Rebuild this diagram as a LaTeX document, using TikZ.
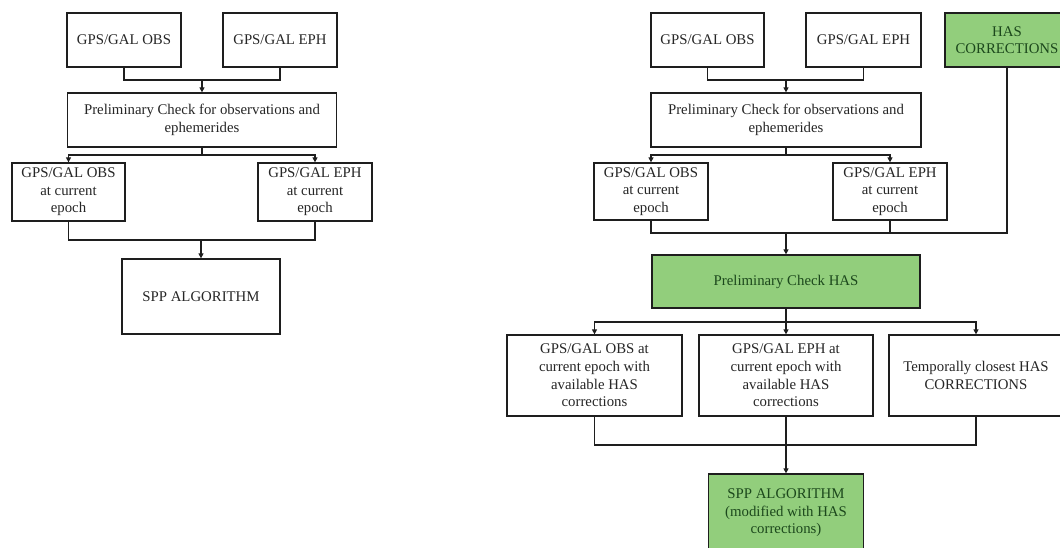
\documentclass[tikz,border=0pt]{standalone}
\usepackage{fontspec}
\setmainfont{Liberation Serif}
\usetikzlibrary{arrows.meta}
\definecolor{hasgreen}{RGB}{146,206,124}
\definecolor{hastext}{RGB}{28,72,28}
\definecolor{linec}{RGB}{30,30,30}
\begin{document}
\begin{tikzpicture}[x=1pt,y=-1pt,
  box/.style={draw=linec, line width=1.3pt, fill=white, align=center, inner sep=2pt,
    font=\fontsize{14.8}{17.6}\selectfont, text=black!85},
  gbox/.style={box, fill=hasgreen, text=hastext},
  conn/.style={draw=linec, line width=1.3pt},
  arr/.style={conn, -{Triangle[length=5pt,width=5pt]}}]
\clip (0,0) rectangle (1060,547);
\fill[white] (0,0) rectangle (1060,547);
% ---------------- left diagram ----------------
\node[box, minimum width=114, minimum height=54] (lobs) at (124,40) {GPS/GAL OBS};
\node[box, minimum width=114, minimum height=54] (leph) at (280,40) {GPS/GAL EPH};
\node[box, minimum width=269, minimum height=54] (lpre) at (202,120) {Preliminary Check for observations and\\ephemerides};
\node[box, minimum width=113, minimum height=58] (lobsc) at (68.5,192) {GPS/GAL OBS\\at current\\epoch};
\node[box, minimum width=114, minimum height=58] (lephc) at (315,192) {GPS/GAL EPH\\at current\\epoch};
\node[box, minimum width=158, minimum height=75] (lspp) at (201,296.5) {SPP ALGORITHM};
\coordinate (lj1) at (202,80);
\coordinate (lj2) at (202,155);
\coordinate (lj3) at (201,240);
\draw[conn] (lobs.south) |- (lj1) -| (leph.south);
\draw[arr] (lj1) -- (lpre.north);
\draw[conn] (lpre.south) -- (lj2);
\draw[arr] (lj2) -| (lobsc.north);
\draw[arr] (lj2) -| (lephc.north);
\draw[conn] (lobsc.south) |- (lj3) -| (lephc.south);
\draw[arr] (lj3) -- (lspp.north);
% ---------------- right diagram ----------------
\node[box, minimum width=113, minimum height=54] (robs) at (707.5,40) {GPS/GAL OBS};
\node[box, minimum width=115, minimum height=54] (reph) at (863.5,40) {GPS/GAL EPH};
\node[gbox, minimum width=124, minimum height=54] (rhas) at (1007,40) {HAS\\CORRECTIONS};
\node[box, minimum width=270, minimum height=54] (rpre) at (786,120) {Preliminary Check for observations and\\ephemerides};
\node[box, minimum width=114, minimum height=57] (robsc) at (651,191.5) {GPS/GAL OBS\\at current\\epoch};
\node[box, minimum width=114, minimum height=57] (rephc) at (890,191.5) {GPS/GAL EPH\\at current\\epoch};
\node[gbox, minimum width=268, minimum height=53] (rhpre) at (786,281.5) {Preliminary Check HAS};
\node[box, minimum width=175, minimum height=81] (rb1) at (594.5,375.5) {GPS/GAL OBS at\\current epoch with\\available HAS\\corrections};
\node[box, minimum width=174, minimum height=81] (rb2) at (786,375.5) {GPS/GAL EPH at\\current epoch with\\available HAS\\corrections};
\node[box, minimum width=174, minimum height=81] (rb3) at (976,375.5) {Temporally closest HAS\\CORRECTIONS};
\node[gbox, minimum width=155, minimum height=78] (rspp) at (786,513) {SPP ALGORITHM\\(modified with HAS\\corrections)};
\coordinate (rj1) at (786,80);
\coordinate (rj2) at (786,155);
\coordinate (rj3) at (786,233);
\coordinate (rj4) at (786,322);
\coordinate (rj5) at (786,445);
\draw[conn] (robs.south) |- (rj1) -| (reph.south);
\draw[arr] (rj1) -- (rpre.north);
\draw[conn] (rpre.south) -- (rj2);
\draw[arr] (rj2) -| (robsc.north);
\draw[arr] (rj2) -| (rephc.north);
\draw[conn] (robsc.south) |- (rj3) -| (rhas.south);
\draw[conn] (rephc.south) -- (rephc.south |- rj3);
\draw[arr] (rj3) -- (rhpre.north);
\draw[conn] (rhpre.south) -- (rj4);
\draw[arr] (rj4) -| (rb1.north);
\draw[arr] (rj4) -- (rb2.north);
\draw[arr] (rj4) -| (rb3.north);
\draw[conn] (rb1.south) |- (rj5) -| (rb3.south);
\draw[conn] (rb2.south) -- (rj5);
\draw[arr] (rj5) -- (rspp.north);
\end{tikzpicture}
\end{document}
